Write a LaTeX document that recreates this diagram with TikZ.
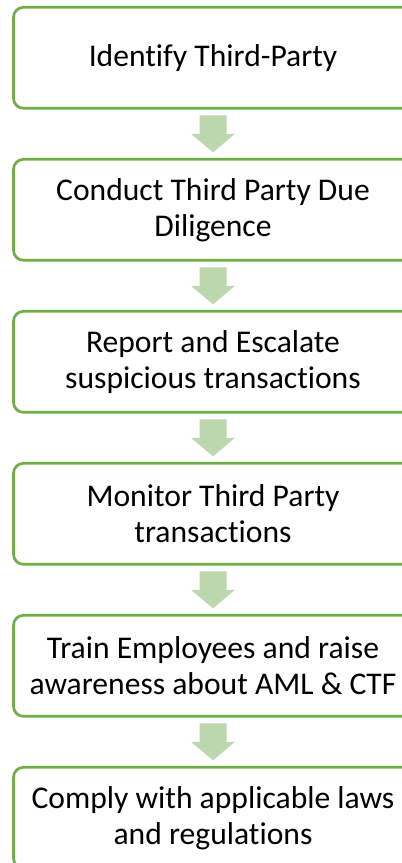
\documentclass[tikz,border=0pt]{standalone}
\usepackage{fontspec}
\setmainfont{Carlito}[Ligatures=NoCommon]
\usepackage{xcolor}
\usepackage{tikz}
\usetikzlibrary{positioning,calc}
\definecolor{boxgreen}{HTML}{70AD47}
\definecolor{arrowgreen}{HTML}{BCD6AE}
\tikzset{
stepbox/.style={draw=boxgreen,line width=2pt,rounded corners=7.5pt,fill=white,
  minimum width=299.25pt,minimum height=75.75pt,outer sep=0pt,align=center,
  font=\fontsize{23.7}{27}\selectfont},
downarrow/.style={fill=arrowgreen,draw=none}
}
\begin{document}
\begin{tikzpicture}[x=0.75pt,y=0.75pt,node distance=38.25pt]
\useasboundingbox (0,0) rectangle (402,863);
\clip (0,0) rectangle (402,863);
\node[stepbox] (s1) at (213,805.2) {Identify Third-Party};
\node[stepbox,below=of s1] (s2) {Conduct Third Party Due\\Diligence};
\node[stepbox,below=of s2] (s3) {Report and Escalate\\suspicious transactions};
\node[stepbox,below=of s3] (s4) {Monitor Third Party\\transactions};
\node[stepbox,below=of s4] (s5) {Train Employees and raise\\awareness about AML \& CTF};
\node[stepbox,below=of s5] (s6) {Comply with applicable laws\\and regulations};
% block arrows between the steps
\foreach \i/\j in {1/2,2/3,3/4,4/5,5/6}{
  \coordinate (m\i) at ($(s\i.south)!0.5!(s\j.north)$);
  \fill[downarrow] ($(m\i)+(-13.5,18.5)$) -- ($(m\i)+(13.5,18.5)$) -- ($(m\i)+(13.5,0)$)
    -- ($(m\i)+(22,0)$) -- ($(m\i)+(0,-18.5)$) -- ($(m\i)+(-22,0)$)
    -- ($(m\i)+(-13.5,0)$) -- cycle;
}
\end{tikzpicture}
\end{document}
